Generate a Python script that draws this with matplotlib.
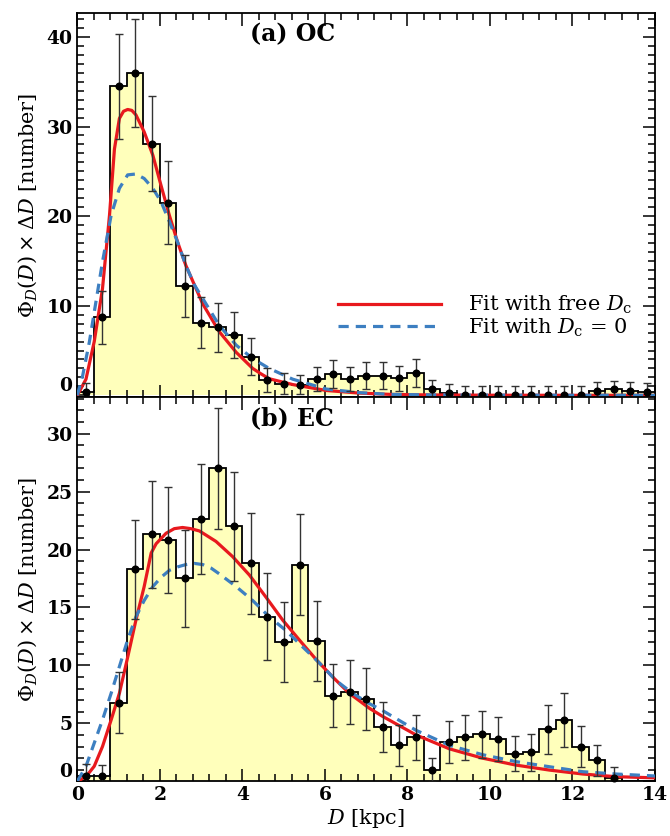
import numpy as np
import matplotlib
matplotlib.use("Agg")
import matplotlib.pyplot as plt
from matplotlib.ticker import MultipleLocator

plt.rcParams["font.family"] = ["DejaVu Serif"]
plt.rcParams["mathtext.fontset"] = "dejavuserif"

# Distance bins (kpc)
bin_edges = np.arange(0.0, 14.0 + 1e-9, 0.4)

# (a) OC: counts per 0.4 kpc bin
oc_counts = [0.4, 8.7, 34.5, 36.0, 28.1, 21.5, 12.2, 8.1, 7.6, 6.7, 4.3, 1.7,
             1.3, 1.2, 1.8, 2.4, 1.8, 2.2, 2.2, 1.9, 2.5, 0.7, 0.3,
             0, 0, 0, 0, 0, 0, 0, 0,
             0.5, 0.65, 0.5, 0.4]

# (b) EC: counts per 0.4 kpc bin (last two bins empty)
ec_counts = [0.5, 0.45, 6.8, 18.3, 21.3, 20.8, 17.5, 22.6, 27.0, 22.0, 18.8,
             14.2, 12.0, 18.7, 12.1, 7.4, 7.7, 7.1, 4.7, 3.1, 3.8, 0.97, 3.4,
             3.8, 4.05, 3.65, 2.4, 2.5, 4.5, 5.3, 3.0, 1.8, 0.25,
             np.nan, np.nan]

# Fitted model curves, OC
oc_free_d = [0, 0.21, 0.41, 0.61, 0.78, 0.9, 1.02, 1.12, 1.22, 1.32, 1.42, 1.62,
             1.83, 2.03, 2.23, 2.43, 2.63, 2.84, 3.04, 3.44, 3.85, 4.25, 4.45,
             4.65, 5.22, 6.03, 6.83, 7.6, 8.5, 10, 12, 14]
oc_free_v = [0, 1.8, 6.0, 11.9, 20.1, 27.5, 30.9, 31.7, 31.9, 31.8, 31.3, 29.4,
             26.8, 23.4, 20.1, 17.1, 14.5, 12.3, 10.2, 7.1, 4.8, 3.0, 2.4,
             1.85, 1.2, 0.54, 0.25, 0.1, 0.04, 0.01, 0.0, 0.0]
oc_zero_d = [0, 0.13, 0.29, 0.45, 0.61, 0.82, 1.02, 1.22, 1.42, 1.62, 1.83, 2.03,
             2.23, 2.43, 2.63, 2.84, 3.04, 3.44, 3.85, 4.25, 4.65, 5.22, 6.03,
             6.83, 7.6, 8.5, 10, 12, 14]
oc_zero_v = [0, 2.2, 5.9, 10.4, 14.9, 20.1, 23.1, 24.6, 24.7, 24.2, 23.1, 21.6,
             19.4, 17.1, 14.5, 12.3, 10.8, 7.8, 5.6, 4.1, 3.0, 1.8, 0.7,
             0.3, 0.1, 0.05, 0.02, 0.0, 0.0]

# Fitted model curves, EC
ec_free_d = [0, 0.21, 0.41, 0.61, 0.82, 1.02, 1.22, 1.42, 1.62, 1.79, 1.91, 2.15,
             2.35, 2.55, 2.75, 2.96, 3.36, 3.76, 4.17, 4.57, 4.98, 5.38, 5.79,
             6.19, 6.59, 7.08, 7.4, 8.21, 9.02, 9.82, 10.63, 11.44, 12.25,
             13.06, 14]
ec_free_v = [0, 0.4, 1.3, 3.0, 5.3, 7.6, 10.7, 13.9, 16.8, 19.7, 20.5, 21.4,
             21.8, 21.9, 21.8, 21.6, 20.7, 19.4, 17.8, 15.9, 13.9, 12.2, 10.5,
             9.0, 7.6, 6.3, 5.6, 4.0, 2.8, 2.0, 1.4, 0.97, 0.63,
             0.4, 0.3]
ec_zero_d = [0, 0.21, 0.41, 0.61, 0.82, 1.02, 1.22, 1.42, 1.62, 1.83, 2.03, 2.23,
             2.43, 2.63, 2.84, 3.04, 3.24, 3.44, 3.85, 4.25, 4.65, 5.06, 5.46,
             5.87, 6.27, 6.67, 7.08, 7.4, 8.21, 9.02, 9.82, 10.63, 11.44, 12.25,
             13.06, 14]
ec_zero_v = [0, 1.3, 3.3, 5.3, 7.6, 9.9, 12.2, 14.2, 15.6, 16.8, 17.6, 18.2,
             18.5, 18.7, 18.8, 18.7, 18.4, 17.9, 16.8, 15.6, 14.2, 13.0, 11.6,
             10.2, 8.7, 7.6, 6.7, 6.1, 4.4, 3.1, 2.3, 1.7, 1.26, 0.83,
             0.63, 0.46]

panel_titles = ["(a) OC", "(b) EC"]
legend_labels = [r"Fit with free $D_{\mathrm{c}}$", r"Fit with $D_{\mathrm{c}}$ = 0"]

FILL = "#FFFFBB"
RED = "#E8191E"
BLUE = "#3D7FC1"

fig = plt.figure(figsize=(6.70, 8.36), dpi=100)
left, right = 0.1154, 0.9776
top, mid, bottom = 0.9848, 0.5250, 0.0654
ax1 = fig.add_axes([left, mid, right - left, top - mid])
ax2 = fig.add_axes([left, bottom, right - left, mid - bottom])


def draw_panel(ax, counts, free_d, free_v, zero_d, zero_v, title, ylims, ymajor):
    counts = np.asarray(counts, dtype=float)
    heights = np.nan_to_num(counts)
    centers = 0.5 * (bin_edges[:-1] + bin_edges[1:])
    # Poisson uncertainties, with a floor of one count
    errs = np.sqrt(np.maximum(counts, 1.0))

    ax.stairs(heights, bin_edges, fill=True, color=FILL, zorder=1)
    ax.stairs(heights, bin_edges, color="black", lw=1.3, zorder=2)
    l1, = ax.plot(free_d, free_v, color=RED, lw=2.3, zorder=3)
    l2, = ax.plot(zero_d, zero_v, color=BLUE, lw=2.3, ls=(0, (3.2, 2.2)), zorder=3)
    ok = ~np.isnan(counts)
    ax.errorbar(centers[ok], counts[ok], yerr=errs[ok], fmt="none",
                ecolor="#333333", elinewidth=1.0, capsize=3.2, capthick=1.0,
                zorder=4)
    ax.plot(centers[ok], counts[ok], "o", color="black", ms=4.8, zorder=5,
            clip_on=False)

    ax.set_xlim(0, 14)
    ax.set_ylim(*ylims)
    ax.xaxis.set_major_locator(MultipleLocator(2))
    ax.xaxis.set_minor_locator(MultipleLocator(0.4))
    ax.yaxis.set_major_locator(MultipleLocator(ymajor))
    ax.yaxis.set_minor_locator(MultipleLocator(1))
    ax.tick_params(which="both", direction="in", top=True, right=True,
                   width=1.1)
    ax.tick_params(which="major", length=9)
    ax.tick_params(which="minor", length=5)
    for s in ax.spines.values():
        s.set_linewidth(1.3)
    for lab in ax.get_yticklabels():
        lab.set_fontweight("bold")
        lab.set_fontsize(13.5)
    for lab in ax.get_xticklabels():
        lab.set_fontweight("bold")
        lab.set_fontsize(13.5)
    ax.set_ylabel(r"$\Phi_D(D)\times\Delta D$ [number]", fontsize=15, labelpad=5)
    ax.text(0.299, 0.945, title, transform=ax.transAxes, fontsize=17,
            fontweight="bold", ha="left", va="center")
    return l1, l2


h1, h2 = draw_panel(ax1, oc_counts, oc_free_d, oc_free_v, oc_zero_d, oc_zero_v,
                    panel_titles[0], (-0.2, 42.7), 10)
draw_panel(ax2, ec_counts, ec_free_d, ec_free_v, ec_zero_d, ec_zero_v,
           panel_titles[1], (0, 33.15), 5)

ax1.tick_params(axis="x", labelbottom=False)
ax2.set_xlabel(r"$D$ [kpc]", fontsize=15, labelpad=2)

# lift the zero labels so they stay inside each panel
for ax in (ax1, ax2):
    for lab, val in zip(ax.get_yticklabels(), ax.get_yticks()):
        if val == 0:
            lab.set_va("bottom")

ax1.legend([h1, h2], legend_labels, loc="center left",
           bbox_to_anchor=(0.451, 0.21), frameon=False, fontsize=15,
           handlelength=4.95, handletextpad=1.3, labelspacing=0.0,
           borderpad=0.0, borderaxespad=0.0)

fig.savefig("out.png", dpi=100)
